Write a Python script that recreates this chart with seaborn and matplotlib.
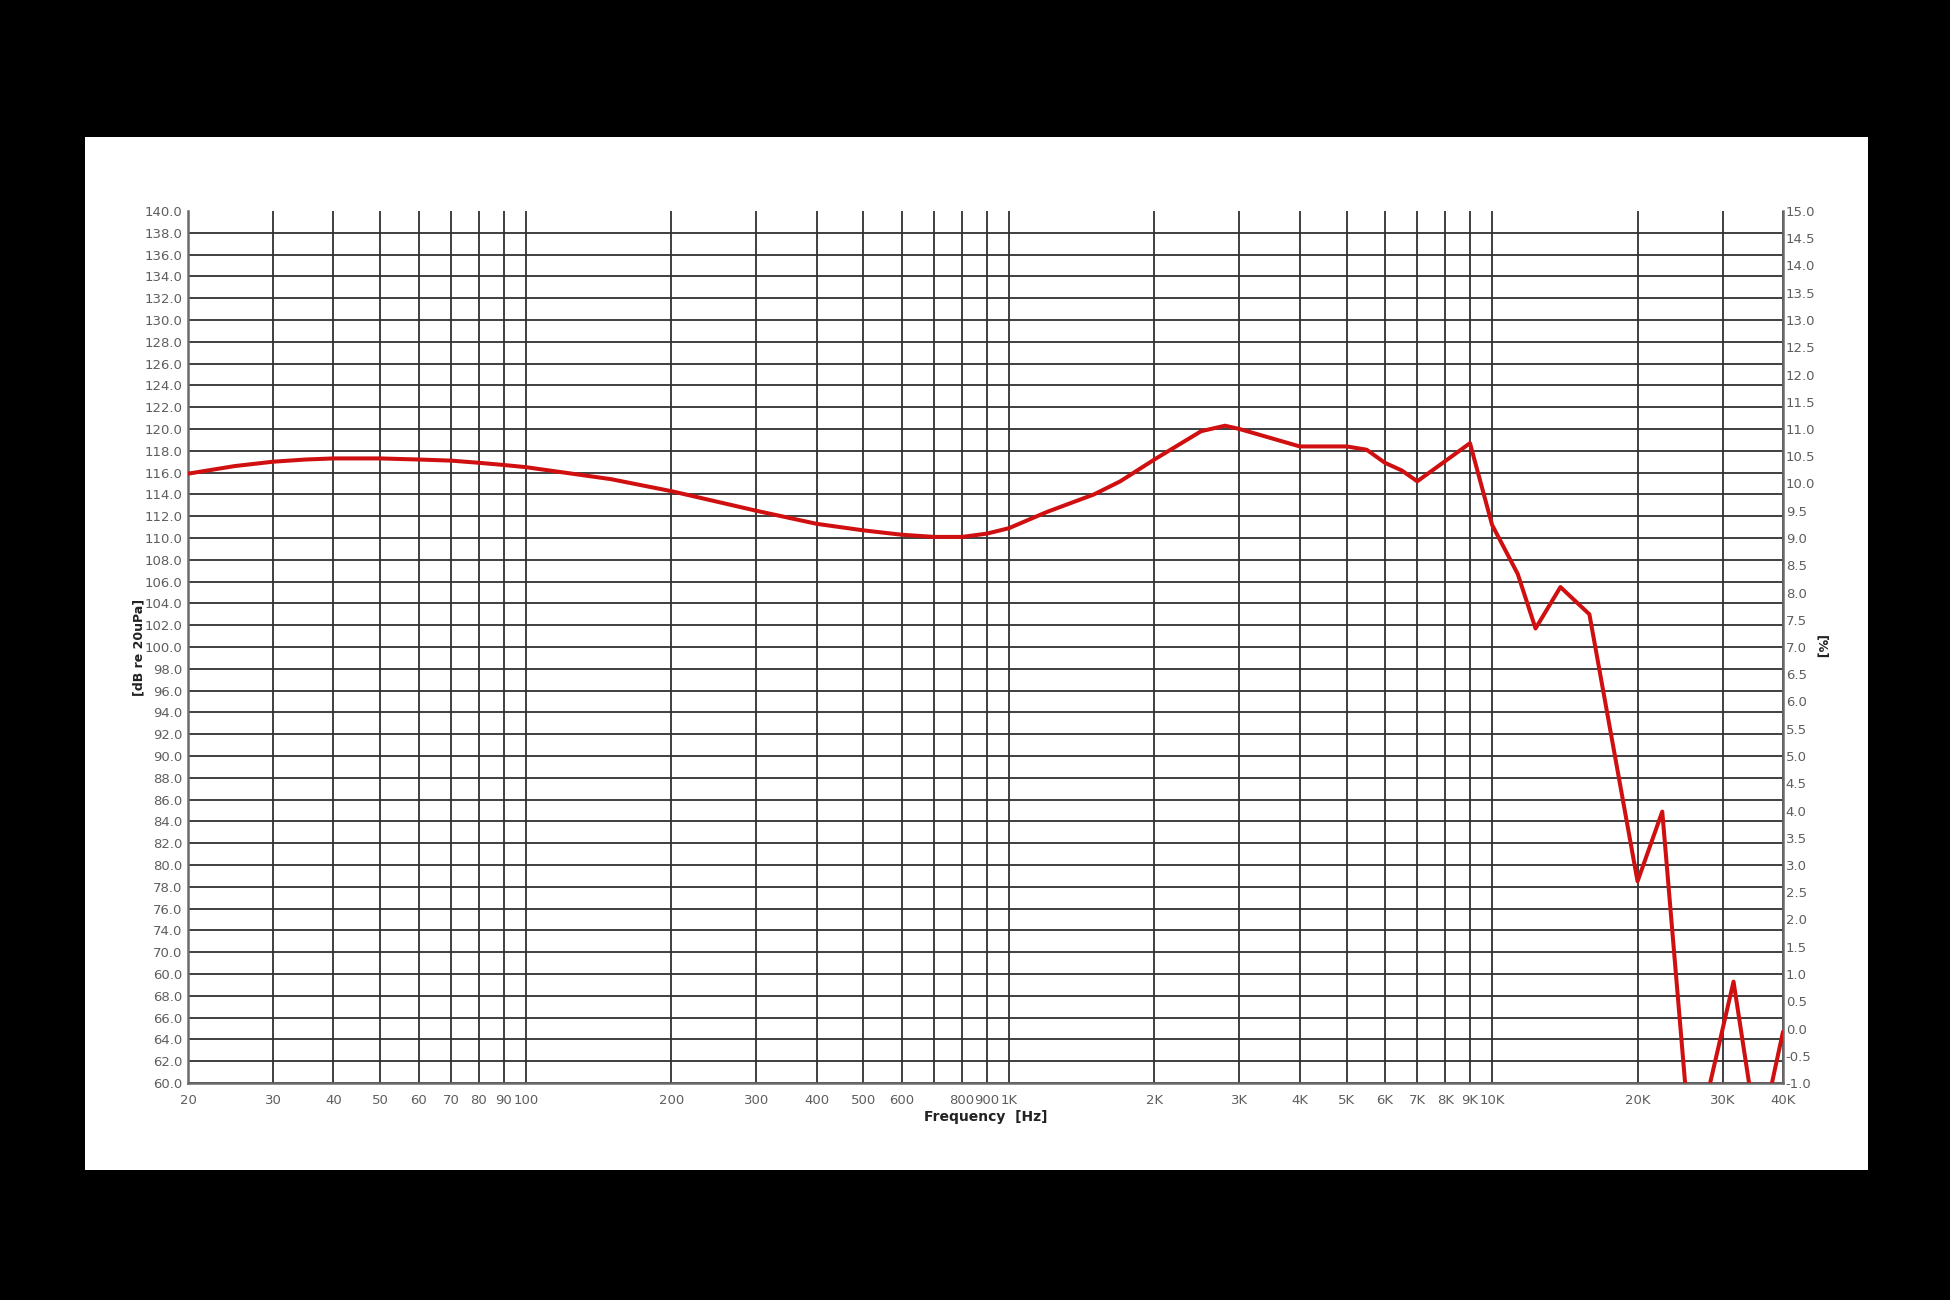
import numpy as np
import pandas as pd
import matplotlib
matplotlib.use("Agg")
import matplotlib.pyplot as plt
from matplotlib.patches import Rectangle
from matplotlib.ticker import NullLocator, FixedLocator, FixedFormatter
import seaborn as sns

# ---------------- data ----------------
freq_hz = [20, 25, 30, 35, 40, 50, 60, 70, 80, 90, 100, 150, 200, 300, 400, 500,
           600, 700, 800, 900, 1000, 1200, 1500, 1700, 2000, 2500, 2800, 3000,
           4000, 5000, 5500, 6000, 6500, 7000, 9000, 10000, 11300, 12300, 13850,
           15900, 20000, 22500, 25900, 31600, 35600, 40000]
spl_db = [115.9, 116.6, 117.0, 117.2, 117.3, 117.3, 117.2, 117.1, 116.9, 116.7,
          116.5, 115.4, 114.3, 112.5, 111.3, 110.7, 110.3, 110.1, 110.1, 110.4,
          110.9, 112.4, 114.0, 115.2, 117.2, 119.8, 120.3, 120.0, 118.4, 118.4,
          118.1, 116.9, 116.2, 115.2, 118.7, 111.2, 106.7, 101.7, 105.5, 103.0,
          78.5, 84.9, 52.7, 69.3, 54.3, 64.7]

x_tick_values = [20, 30, 40, 50, 60, 70, 80, 90, 100, 200, 300, 400, 500, 600,
                 700, 800, 900, 1000, 2000, 3000, 4000, 5000, 6000, 7000, 8000,
                 9000, 10000, 20000, 30000, 40000]
x_tick_labels = ["20", "30", "40", "50", "60", "70", "80", "90", "100", "200",
                 "300", "400", "500", "600", "", "800", "900", "1K", "2K", "3K",
                 "4K", "5K", "6K", "7K", "8K", "9K", "10K", "20K", "30K", "40K"]

left_tick_values = list(range(60, 141, 2))
left_tick_labels = ["60.0", "62.0", "64.0", "66.0", "68.0", "60.0", "70.0",
                    "74.0", "76.0", "78.0", "80.0", "82.0", "84.0", "86.0",
                    "88.0", "90.0", "92.0", "94.0", "96.0", "98.0", "100.0",
                    "102.0", "104.0", "106.0", "108.0", "110.0", "112.0",
                    "114.0", "116.0", "118.0", "120.0", "122.0", "124.0",
                    "126.0", "128.0", "130.0", "132.0", "134.0", "136.0",
                    "138.0", "140.0"]

right_tick_values = [v / 2 for v in range(-2, 31)]
right_tick_labels = ["%.1f" % v for v in right_tick_values]

df = pd.DataFrame({"freq": freq_hz, "spl": spl_db})

# ---------------- figure ----------------
sns.set_style("white")
plt.rcParams["font.family"] = ["DejaVu Sans"]

fig = plt.figure(figsize=(19.5, 13), dpi=100, facecolor="black")
fig.patches.append(Rectangle((85 / 1950, 1 - 1170 / 1300), (1868 - 85) / 1950,
                             (1170 - 137) / 1300, transform=fig.transFigure,
                             facecolor="white", edgecolor="none", zorder=-5))

ax = fig.add_axes([188 / 1950, 1 - 1083 / 1300, (1783 - 188) / 1950,
                   (1083 - 211) / 1300])
ax.set_zorder(2)
ax.set_facecolor("white")

sns.lineplot(data=df, x="freq", y="spl", ax=ax, color="#d01010",
             linewidth=2.9, zorder=5, sort=False)

ax.set_xscale("log")
ax.set_xlim(20, 40000)
ax.set_ylim(60, 140)

ax.xaxis.set_major_locator(FixedLocator(x_tick_values))
ax.xaxis.set_major_formatter(FixedFormatter(x_tick_labels))
ax.xaxis.set_minor_locator(NullLocator())
ax.yaxis.set_major_locator(FixedLocator(left_tick_values))
ax.yaxis.set_major_formatter(FixedFormatter(left_tick_labels))
ax.yaxis.set_minor_locator(NullLocator())

ax.grid(True, which="major", color="#303030", linewidth=1.3)
ygl = ax.get_ygridlines()
ygl[-1].set_visible(False)

ax.tick_params(axis="both", length=0, labelsize=9.5, labelcolor="#5e5e5e")
ax.tick_params(axis="x", pad=8)
ax.tick_params(axis="y", pad=4)

for side in ["left", "right", "bottom"]:
    ax.spines[side].set_visible(True)
    ax.spines[side].set_color("#6a6a6a")
    ax.spines[side].set_linewidth(1.8)
ax.spines["top"].set_visible(False)

ax.set_xlabel("Frequency  [Hz]", fontsize=10, fontweight="bold",
              color="#222222", labelpad=2)
ax.set_ylabel("[dB re 20uPa]", fontsize=9, fontweight="bold",
              color="#222222", labelpad=-1)

ax2 = ax.twinx()
ax2.set_ylim(-1, 15)
ax2.yaxis.set_major_locator(FixedLocator(right_tick_values))
ax2.yaxis.set_major_formatter(FixedFormatter(right_tick_labels))
ax2.yaxis.set_minor_locator(NullLocator())
ax2.tick_params(axis="y", length=0, labelsize=9.5, labelcolor="#5e5e5e", pad=2)
ax2.grid(False)
for side in ["left", "right", "bottom", "top"]:
    ax2.spines[side].set_visible(False)
ax2.set_ylabel("[%]", fontsize=9, fontweight="bold", color="#222222",
               rotation=270, labelpad=9)

fig.savefig("out.png", dpi=100, facecolor="black")
